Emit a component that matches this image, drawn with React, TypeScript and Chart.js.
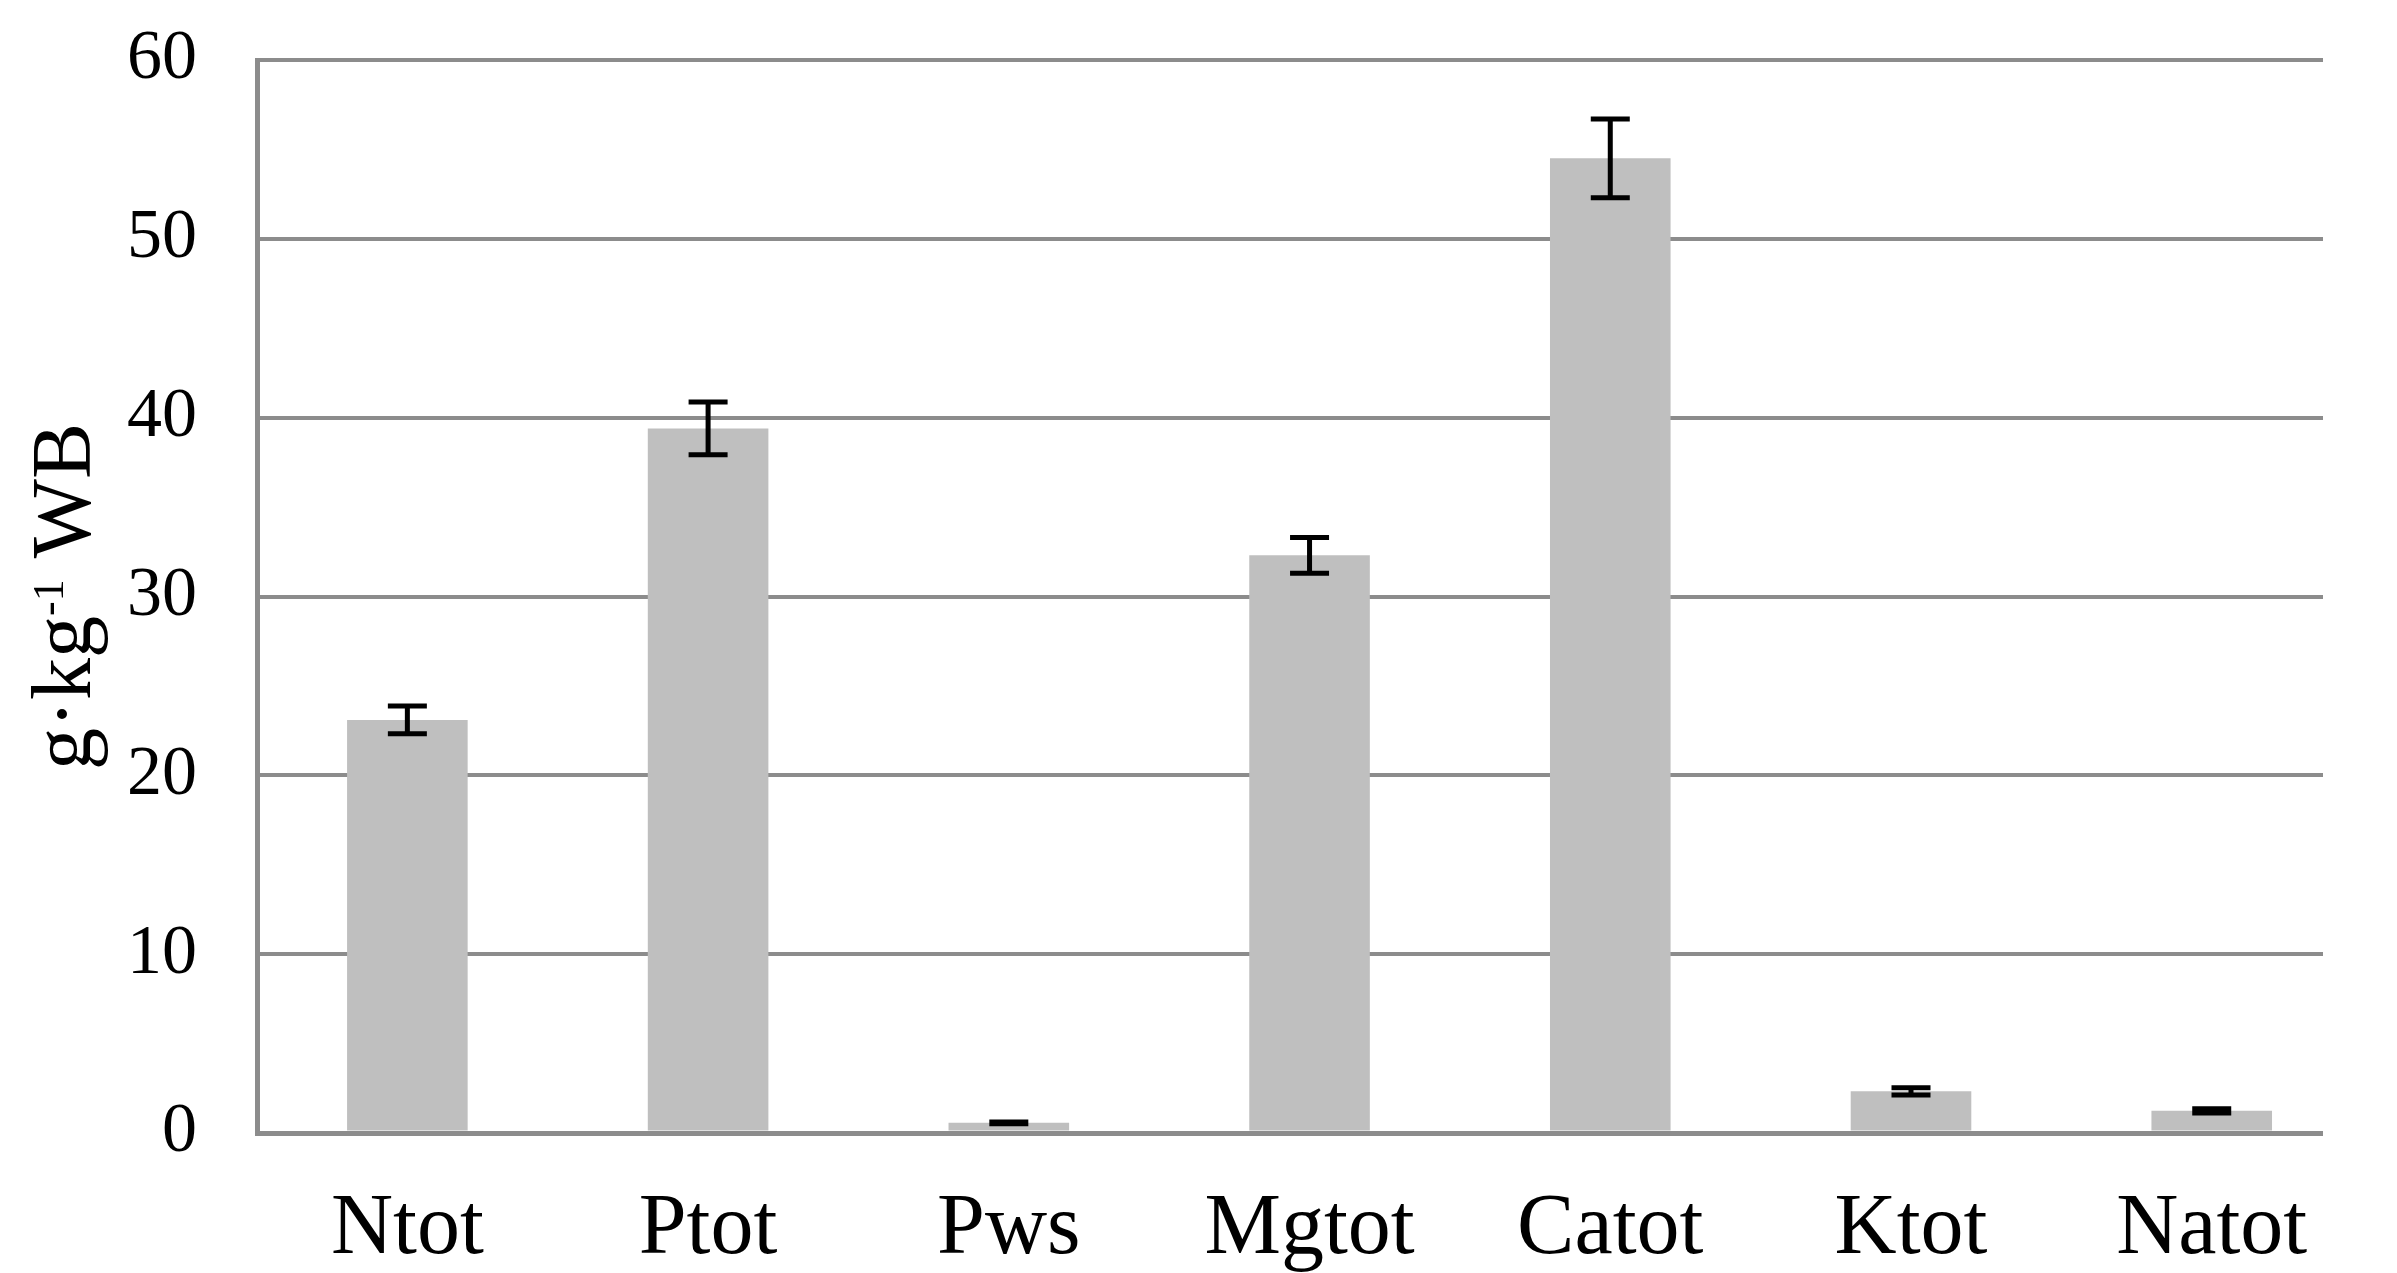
import React, { useEffect, useRef } from "react";
import { Chart, registerables } from "chart.js";

Chart.register(...registerables);

const categories = ["Ntot", "Ptot", "Pws", "Mgtot", "Catot", "Ktot", "Natot"];
const meanValues = [23.1, 39.4, 0.57, 32.3, 54.5, 2.33, 1.24];
const errorValues = [0.78, 1.48, 0.05, 1.0, 2.2, 0.2, 0.12];
const yTicks = [0, 10, 20, 30, 40, 50, 60];

const SERIF = '"Liberation Serif", "Times New Roman", serif';

const errorBarPlugin = {
  id: "errorBars",
  afterDatasetsDraw(chart: any) {
    const ctx = chart.ctx;
    const meta = chart.getDatasetMeta(0);
    const yScale = chart.scales.y;
    ctx.save();
    ctx.strokeStyle = "#000000";
    ctx.lineWidth = 5;
    ctx.lineCap = "butt";
    meta.data.forEach((bar: any, i: number) => {
      const x = bar.x;
      const top = yScale.getPixelForValue(meanValues[i] + errorValues[i]);
      const bottom = yScale.getPixelForValue(meanValues[i] - errorValues[i]);
      const half = 19.5;
      ctx.beginPath();
      ctx.moveTo(x, top);
      ctx.lineTo(x, bottom);
      ctx.moveTo(x - half, top);
      ctx.lineTo(x + half, top);
      ctx.moveTo(x - half, bottom);
      ctx.lineTo(x + half, bottom);
      ctx.stroke();
    });
    ctx.restore();
  },
};

const yTitlePlugin = {
  id: "yTitle",
  afterDraw(chart: any) {
    const ctx = chart.ctx;
    const area = chart.chartArea;
    const cy = (area.top + area.bottom) / 2;
    const mainFont = `84px ${SERIF}`;
    const supFont = `44px ${SERIF}`;
    const parts = [
      { text: "g·kg", font: mainFont, rise: 0 },
      { text: "-1", font: supFont, rise: 27 },
      { text: " WB", font: mainFont, rise: 0 },
    ];
    ctx.save();
    let total = 0;
    const widths = parts.map((p) => {
      ctx.font = p.font;
      const w = ctx.measureText(p.text).width;
      total += w;
      return w;
    });
    ctx.translate(90, cy);
    ctx.rotate(-Math.PI / 2);
    ctx.fillStyle = "#000000";
    ctx.textBaseline = "alphabetic";
    ctx.textAlign = "left";
    let x = -total / 2;
    parts.forEach((p, i) => {
      ctx.font = p.font;
      ctx.fillText(p.text, x, -p.rise);
      x += widths[i];
    });
    ctx.restore();
  },
};

export default function App() {
  const canvasRef = useRef<HTMLCanvasElement | null>(null);

  useEffect(() => {
    if (!canvasRef.current) return;
    const chart = new Chart(canvasRef.current, {
      type: "bar",
      data: {
        datasets: [
          {
            data: meanValues.map((v, i) => ({ x: i, y: v })),
            backgroundColor: "#bfbfbf",
            borderWidth: 0,
            categoryPercentage: 1,
            barPercentage: 0.401,
          },
        ],
      },
      options: {
        animation: false,
        responsive: true,
        maintainAspectRatio: false,
        devicePixelRatio: 1,
        layout: { padding: { left: 0, right: 74, top: 60, bottom: 0 } },
        plugins: {
          legend: { display: false },
          tooltip: { enabled: false },
          title: { display: false },
        },
        scales: {
          x: {
            type: "linear",
            min: -0.5,
            max: 6.37,
            offset: false,
            afterBuildTicks(scale: any) {
              scale.ticks = categories.map((_, i) => ({ value: i }));
            },
            grid: { display: false, drawTicks: false },
            border: { display: false },
            ticks: {
              color: "#000000",
              font: { family: SERIF, size: 86 },
              padding: 46,
              maxRotation: 0,
              autoSkip: false,
              callback: (value: any) => categories[Math.round(Number(value))] ?? "",
            },
            afterFit(scale: any) {
              scale.height = 140;
              scale.paddingLeft = 0;
              scale.paddingRight = 0;
            },
          },
          y: {
            min: 0,
            max: 60,
            afterBuildTicks(scale: any) {
              scale.ticks = yTicks.map((v) => ({ value: v }));
            },
            grid: {
              color: "#8c8c8c",
              lineWidth: (c: any) => (c.tick && c.tick.value === 0 ? 5 : 4),
              drawTicks: false,
            },
            border: { display: true, color: "#8c8c8c", width: 5 },
            ticks: {
              color: "#000000",
              font: { family: SERIF, size: 70 },
              padding: 60,
            },
            afterFit(scale: any) {
              scale.width = 257;
              scale.paddingTop = 0;
              scale.paddingBottom = 0;
            },
          },
        },
      },
      plugins: [errorBarPlugin, yTitlePlugin],
    });
    return () => chart.destroy();
  }, []);

  return (
    <div
      style={{
        position: "fixed",
        left: 0,
        top: 0,
        width: "2397px",
        height: "1273px",
        background: "#ffffff",
      }}
    >
      <canvas ref={canvasRef} />
    </div>
  );
}
